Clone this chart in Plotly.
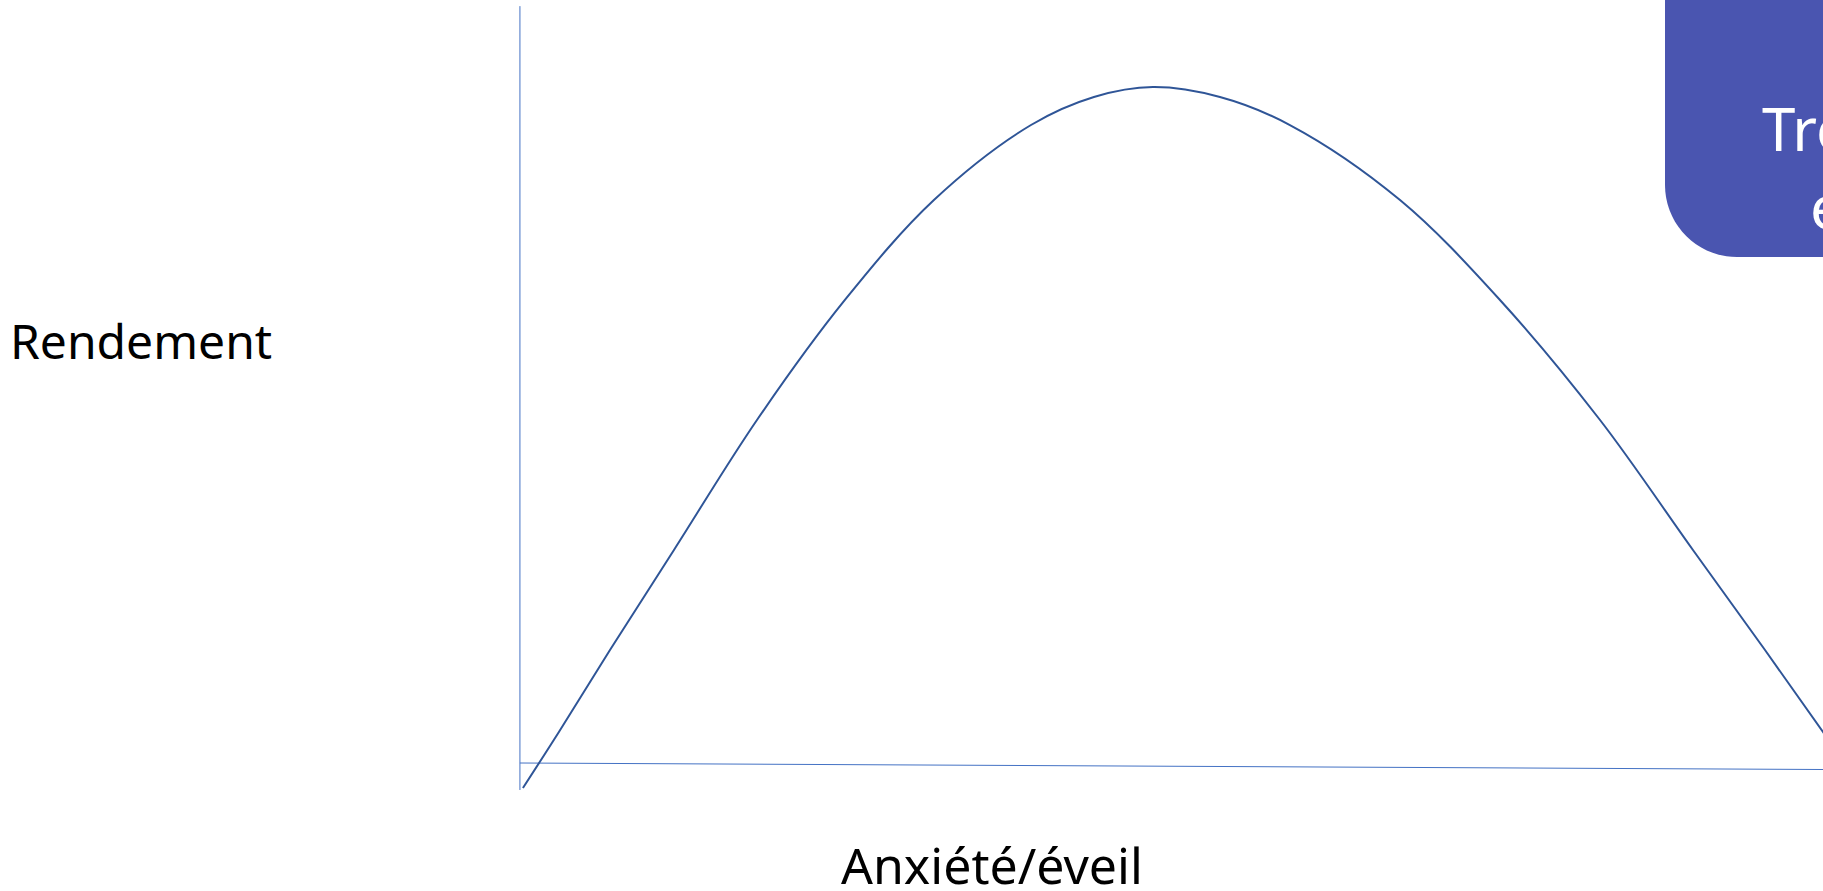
import plotly.graph_objects as go

# Curve data (arousal vs performance) (arbitrary units)
arousal = [0.23, 2.99, 6.91, 11.82, 18.19, 24.94, 31.77, 39.22, 44.05, 48.58,
           53.72, 59.09, 67.54, 75.21, 82.89, 90.02, 95.55, 100.0, 103.1]
performance = [-2.87, 4.44, 15.14, 28.20, 45.17, 60.84, 73.89, 83.68, 87.34, 88.64,
               87.34, 83.68, 73.89, 60.84, 45.17, 28.20, 15.14, 4.44, -2.87]

x_axis_line_x = [0, 100]
x_axis_line_y = [0.39, -0.46]
y_axis_line_x = [0, 0]
y_axis_line_y = [-3.13, 99.2]

fig = go.Figure()
fig.add_trace(go.Scatter(x=y_axis_line_x, y=y_axis_line_y, mode="lines",
                         line=dict(color="#4472C4", width=1), hoverinfo="skip"))
fig.add_trace(go.Scatter(x=x_axis_line_x, y=x_axis_line_y, mode="lines",
                         line=dict(color="#4472C4", width=1), hoverinfo="skip"))
fig.add_trace(go.Scatter(x=arousal, y=performance, mode="lines", line_shape="spline",
                         line=dict(color="#2F5597", width=2), hoverinfo="skip"))

x0 = 1665 / 1823
y0 = 1 - 257 / 891
rx = 72 / 1823
ry = 72 / 891
k = 1 - 0.5523
box_path = (f"M {x0},1.05 L {x0},{y0 + ry} "
            f"C {x0},{y0 + ry * k} {x0 + rx * k},{y0} {x0 + rx},{y0} "
            f"L 1.05,{y0} L 1.05,1.05 Z")

fig.update_layout(
    width=1823, height=891,
    margin=dict(l=0, r=0, t=0, b=0),
    paper_bgcolor="white", plot_bgcolor="white",
    showlegend=False,
    xaxis=dict(range=[-39.9, 100], visible=False, fixedrange=True),
    yaxis=dict(range=[-16.32, 100], visible=False, fixedrange=True),
    shapes=[dict(type="path", xref="paper", yref="paper", path=box_path,
                 fillcolor="#4A55B0", line=dict(width=0), layer="above")],
    annotations=[
        dict(text="Rendement", xref="paper", yref="paper", x=0.0044, y=0.618,
             xanchor="left", yanchor="middle", showarrow=False,
             font=dict(family="Noto Sans", size=48, color="black")),
        dict(text="Anxiété/éveil", xref="paper", yref="paper", x=0.544, y=0.029,
             xanchor="center", yanchor="middle", showarrow=False,
             font=dict(family="Noto Sans", size=50, color="black")),
        dict(text="Trop", xref="paper", yref="paper", x=0.9655, y=0.8558,
             xanchor="left", yanchor="middle", showarrow=False,
             font=dict(family="Noto Sans", size=60, color="white")),
        dict(text="éveil", xref="paper", yref="paper", x=0.9918, y=0.7688,
             xanchor="left", yanchor="middle", showarrow=False,
             font=dict(family="Noto Sans", size=60, color="white")),
    ],
)
fig.write_html("out.html", config={"displayModeBar": False, "staticPlot": True})

# remove the default page margin so the figure sits at the window's top-left corner
with open("out.html", "r", encoding="utf-8") as f:
    html = f.read()
html = html.replace("<head>", "<head><style>html,body{margin:0;padding:0;overflow:hidden;}</style>", 1)
with open("out.html", "w", encoding="utf-8") as f:
    f.write(html)
